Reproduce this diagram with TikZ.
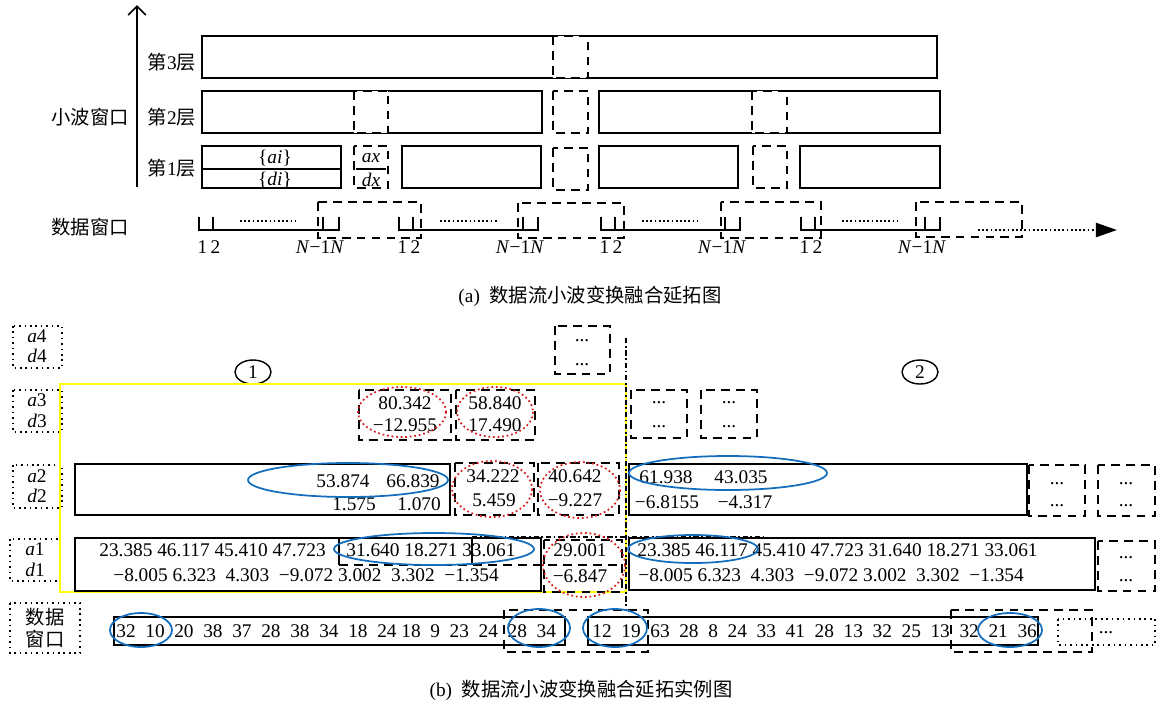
\documentclass[tikz,border=0pt]{standalone}
\usepackage{fontspec}
\setmainfont{Liberation Serif}
\newfontfamily\cjk{Noto Sans CJK SC}
\usetikzlibrary{arrows.meta}
\definecolor{ovalblue}{RGB}{20,110,190}
\definecolor{ovalred}{RGB}{215,30,30}
\definecolor{winyellow}{RGB}{255,255,0}
\tikzset{
  solidbox/.style={draw=black, line width=1pt},
  dashbox/.style={draw=black, line width=1pt, dash pattern=on 5pt off 3.5pt},
  dashfill/.style={dashbox, fill=white},
  dotbox/.style={draw=black, line width=0.9pt, dash pattern=on 0.9pt off 2.2pt},
  tickline/.style={draw=black, line width=1pt},
  gapdots/.style={draw=black, line width=1.2pt, dash pattern=on 1pt off 1.4pt},
  blueoval/.style={draw=ovalblue, line width=1pt},
  redoval/.style={draw=ovalred, line width=1pt, dash pattern=on 1pt off 1.6pt},
  yellowframe/.style={draw=winyellow, line width=1.3pt},
  splitline/.style={draw=black, line width=1.3pt, dash pattern=on 3pt off 1.5pt on 1pt off 1.5pt},
  numrow/.style={inner sep=0pt, anchor=west},
}

\begin{document}
\begin{tikzpicture}[x=0.02cm, y=-0.02cm, font=\fontsize{11}{13}\selectfont]
\useasboundingbox (0,0) rectangle (1158,704);
\draw[solidbox, -{Straight Barb[length=5pt,width=10pt]}] (137,187) -- (137,5);
\node (wavelab) at (90,117) {\cjk 小波窗口};
\node (layer3) at (172,62) {{\cjk 第}3{\cjk 层}};
\node (layer2) at (172,117) {{\cjk 第}2{\cjk 层}};
\node (layer1) at (172,168) {{\cjk 第}1{\cjk 层}};
\node (datalab) at (90,227) {\cjk 数据窗口};
\draw[solidbox] (202,36) rectangle (937,78);
\draw[dashfill] (553,36) rectangle (588,78);
\draw[solidbox] (202,91) rectangle (542,133);
\draw[dashfill] (354,91) rectangle (388,133);
\draw[dashbox] (553,91) rectangle (588,133);
\draw[solidbox] (599,91) rectangle (940,133);
\draw[dashfill] (752,91) rectangle (787,133);
\draw[solidbox] (202,146) rectangle (341,188);
\draw[solidbox] (202,169) -- (341,169);
\node (aiset) at (275,158) {\{\textit{ai}\}};
\node (diset) at (275,180) {\{\textit{di}\}};
\draw[dashbox] (354,146) rectangle (388,188);
\draw[tickline] (356,169) -- (386,169);
\node (axval) at (371,158) {\textit{ax}};
\node (dxval) at (371,180) {\textit{dx}};
\draw[solidbox] (402,146) rectangle (541,188);
\draw[dashbox] (553,148) rectangle (588,190);
\draw[solidbox] (599,146) rectangle (738,188);
\draw[dashbox] (753,146) rectangle (787,188);
\draw[solidbox] (800,146) rectangle (940,188);
\draw[tickline] (199,217) -- (199,230) -- (339,230) -- (339,217) (213,217) -- (213,230) (323,217) -- (323,230);
\draw[tickline] (399,217) -- (399,230) -- (538,230) -- (538,217) (413,217) -- (413,230) (523,217) -- (523,230);
\draw[tickline] (601,217) -- (601,230) -- (740,230) -- (740,217) (615,217) -- (615,230) (725,217) -- (725,230);
\draw[tickline] (801,217) -- (801,230) -- (940,230) -- (940,217) (815,217) -- (815,230) (925,217) -- (925,230);
\draw[gapdots] (240,221) -- (296,221);
\draw[gapdots] (440,221) -- (497,221);
\draw[gapdots] (642,221) -- (697,221);
\draw[gapdots] (842,221) -- (897,221);
\draw[dashbox] (318,202) rectangle (421,238);
\draw[dashbox] (518,203) rectangle (624,238);
\draw[dashbox] (721,202) rectangle (821,238);
\draw[dashbox] (916,202) rectangle (1022,237);
\draw[gapdots, -{Triangle[length=12pt,width=8pt]}] (978,230) -- (1117,230);
\node (first1) at (209,247) {1\,2};
\node (last1) at (320,247) {\textit{N}−1\textit{N}};
\node (first2) at (409,247) {1\,2};
\node (last2) at (520,247) {\textit{N}−1\textit{N}};
\node (first3) at (611,247) {1\,2};
\node (last3) at (722,247) {\textit{N}−1\textit{N}};
\node (first4) at (811,247) {1\,2};
\node (last4) at (922,247) {\textit{N}−1\textit{N}};
\node (capa) at (590,296) {(a)~~{\cjk 数据流小波变换融合延拓图}};
\draw[dotbox] (13,326) rectangle (62,368);
\node (a4lab) at (37,336) {\textit{a}4};
\node (d4lab) at (37,356) {\textit{d}4};
\draw[dotbox] (13,390) rectangle (62,432);
\node (a3lab) at (37,400) {\textit{a}3};
\node (d3lab) at (37,421) {\textit{d}3};
\draw[dotbox] (13,465) rectangle (62,508);
\node (a2lab) at (37,476) {\textit{a}2};
\node (d2lab) at (37,496) {\textit{d}2};
\draw[dotbox] (10,539) rectangle (60,581);
\node (a1lab) at (35,549) {\textit{a}1};
\node (d1lab) at (35,570) {\textit{d}1};
\draw[dotbox] (10,603) rectangle (80,653);
\node (datab1) at (45,617) {\cjk 数据};
\node (datab2) at (45,639) {\cjk 窗口};
\draw[solidbox, line width=0.8pt] (253,372) ellipse [x radius=18, y radius=12];
\node (mark1) at (253,372) {1};
\draw[solidbox, line width=0.8pt] (920,372) ellipse [x radius=18, y radius=12];
\node (mark2) at (920,372) {2};
\draw[yellowframe] (60,384) rectangle (626,592);
\draw[dashbox] (555,326) rectangle (610,374);
\node (a4dots) at (582,341) {...};
\node (d4dots) at (582,365) {...};
\draw[dashbox] (359,390) rectangle (451,440);
\node (a3v1) at (405,403) {80.342};
\node (d3v1) at (405,425) {−12.955};
\draw[redoval] (402,412) ellipse [x radius=44, y radius=25];
\draw[dashbox] (456,390) rectangle (535,440);
\node (a3v2) at (495,403) {58.840};
\node (d3v2) at (495,425) {17.490};
\draw[redoval] (495,412) ellipse [x radius=38, y radius=25];
\draw[dashbox] (631,390) rectangle (687,438);
\node (a3dotsa) at (659,403) {...};
\node (d3dotsa) at (659,427) {...};
\draw[dashbox] (701,390) rectangle (757,438);
\node (a3dotsb) at (729,403) {...};
\node (d3dotsb) at (729,427) {...};
\draw[solidbox] (75,464) rectangle (450,515);
\node (a2v1) at (343,481) {53.874};
\node (a2v2) at (413,481) {66.839};
\node (d2v1) at (354,504) {1.575};
\node (d2v2) at (419,504) {1.070};
\draw[blueoval] (348,480) ellipse [x radius=100, y radius=17];
\draw[dashbox] (455,463) rectangle (534,515);
\node (a2v3) at (493,476) {34.222};
\node (d2v3) at (494,500) {5.459};
\draw[redoval] (492,489) ellipse [x radius=40, y radius=28];
\draw[dashbox] (538,463) rectangle (619,515);
\node (a2v4) at (575,476) {40.642};
\node (d2v4) at (575,500) {−9.227};
\draw[redoval] (580,490) ellipse [x radius=40, y radius=28];
\draw[solidbox] (629,464) rectangle (1027,515);
\node (a2v5) at (666,477) {61.938};
\node (a2v6) at (741,477) {43.035};
\node (d2v5) at (667,502) {−6.8155};
\node (d2v6) at (745,502) {−4.317};
\draw[blueoval] (728,473) ellipse [x radius=99, y radius=17];
\draw[dashbox] (1029,465) rectangle (1085,516);
\node (a2dotsa) at (1057,484) {...};
\node (d2dotsa) at (1057,506) {...};
\draw[dashbox] (1098,465) rectangle (1155,516);
\node (a2dotsb) at (1126,484) {...};
\node (d2dotsb) at (1126,506) {...};
\draw[solidbox] (75,538) rectangle (541,591);
\draw[solidbox] (339,538) -- (339,565);
\draw[dashbox] (339,565) -- (622,565);
\draw[solidbox] (472,537) -- (472,565);
\draw[splitline, line width=1pt] (472,537) -- (763,537);
\node[numrow] (a1left) at (99,550) {23.385 46.117 45.410 47.723};
\node[numrow] (a1over) at (346,550) {31.640 18.271 33.061};
\node[numrow] (d1left) at (113,575) {−8.005 6.323~~4.303~~−9.072 3.002~~3.302~~−1.354};
\draw[blueoval] (434,549) ellipse [x radius=100, y radius=16];
\draw[dashbox] (544,540) rectangle (622,592);
\node (a1v) at (580,550) {29.001};
\node (d1v) at (580,576) {−6.847};
\draw[redoval] (584,565) ellipse [x radius=41, y radius=32];
\draw[solidbox] (629,538) rectangle (1095,590);
\node[numrow] (a1right) at (637,550) {23.385 46.117 45.410 47.723 31.640 18.271 33.061};
\node[numrow] (d1right) at (638,575) {−8.005 6.323~~4.303~~−9.072 3.002~~3.302~~−1.354};
\draw[blueoval] (693,549) ellipse [x radius=65, y radius=14];
\draw[dashbox] (1098,541) rectangle (1155,591);
\node (a1dots) at (1126,558) {...};
\node (d1dots) at (1126,581) {...};
\draw[splitline] (626,338) -- (626,610);
\draw[solidbox] (114,617) rectangle (565,645);
\draw[solidbox] (588,617) rectangle (1038,645);
\draw[dashbox] (504,610) rectangle (648,652);
\draw[dashbox] (951,610) rectangle (1092,652);
\draw[dotbox] (1058,619) rectangle (1155,645);
\node (moredots) at (1106,633) {...};
\node[numrow] (window1) at (116,631) {32~~10~~20~~38~~37~~28~~38~~34~~18~~24 18~~9~~23~~24~~28~~34};
\node[numrow] (window2) at (592,631) {12~~19~~63~~28~~8~~24~~33~~41~~28~~13~~32~~25~~13~~32~~21~~36};
\draw[blueoval] (141,630) ellipse [x radius=31, y radius=17];
\draw[blueoval] (539,628) ellipse [x radius=31, y radius=19];
\draw[blueoval] (615,628) ellipse [x radius=32, y radius=19];
\draw[blueoval] (1010,630) ellipse [x radius=32, y radius=17];
\node (capb) at (581,690) {(b)~~{\cjk 数据流小波变换融合延拓实例图}};
\end{tikzpicture}
\end{document}
